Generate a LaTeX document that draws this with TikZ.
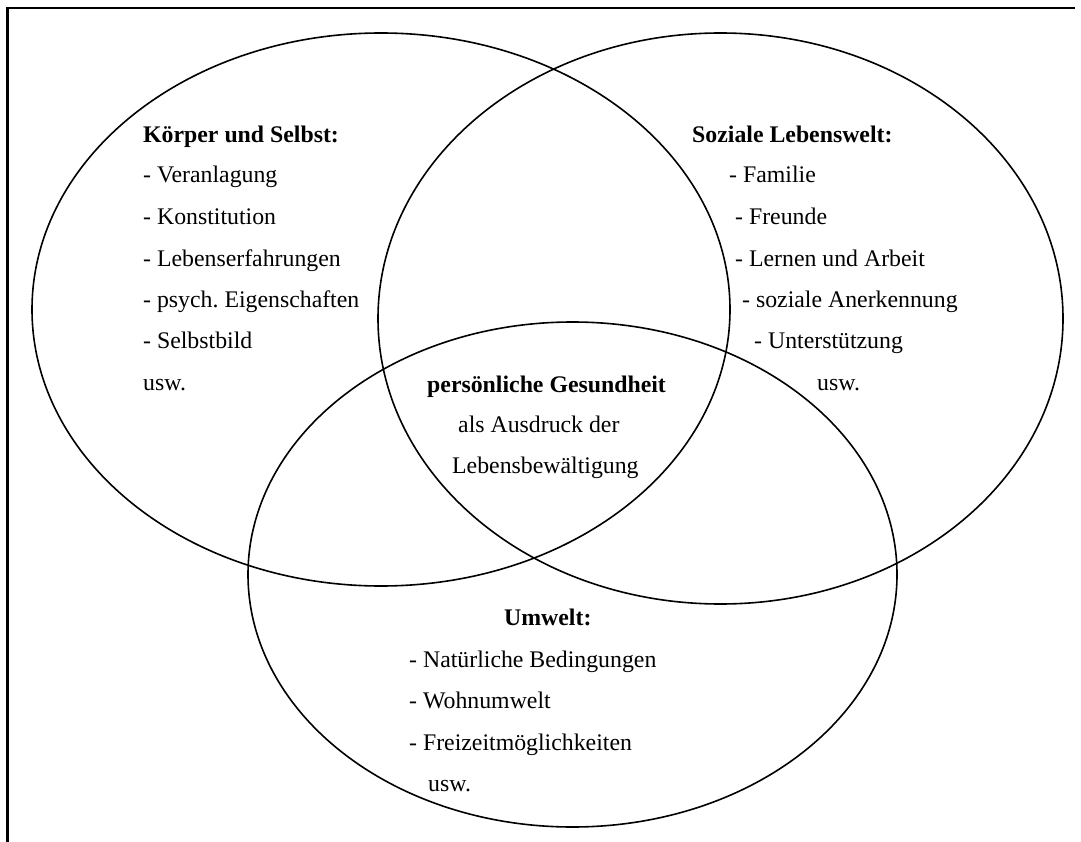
\documentclass[tikz,border=0pt]{standalone}
\usepackage{fontspec}
\setmainfont{Liberation Serif}
\frenchspacing
\begin{document}
\begin{tikzpicture}[x=1pt,y=-1pt,
  txt/.style={anchor=base west,inner sep=0pt,font=\fontsize{23.8}{28}\selectfont},
  ttl/.style={txt,font=\fontsize{23.8}{28}\selectfont\bfseries},
  ring/.style={draw=black,line width=1.6pt},
  frameline/.style={draw=black,line width=2.2pt}]
\useasboundingbox (0,0) rectangle (1081,842);
% frame (top and left only)
\coordinate (fTR) at (1075,8);
\coordinate (fTL) at (7.5,8);
\coordinate (fBL) at (7.5,842);
\draw[frameline] (fTR) -- (fTL) -- (fBL);
% ellipses
\draw[ring] (381,309.5) ellipse [x radius=349pt, y radius=276.5pt];
\draw[ring] (720.5,318.5) ellipse [x radius=342.5pt, y radius=285.5pt];
\draw[ring] (572.5,574.5) ellipse [x radius=324.5pt, y radius=252.5pt];
% Koerper und Selbst
\node[ttl] (k0) at (143,143) {Körper und Selbst:};
\node[txt] (k1) at (143,183) {- Veranlagung};
\node[txt] (k2) at (143,225) {- Konstitution};
\node[txt] (k3) at (143,267) {- Lebenserfahrungen};
\node[txt] (k4) at (143,307) {- psych. Eigenschaften};
\node[txt] (k5) at (143,348) {- Selbstbild};
\node[txt] (k6) at (143,390) {usw.};
% Soziale Lebenswelt
\node[ttl] (s0) at (692,143) {Soziale Lebenswelt:};
\node[txt] (s1) at (729,183) {- Familie};
\node[txt] (s2) at (735,225) {- Freunde};
\node[txt] (s3) at (735,267) {- Lernen und Arbeit};
\node[txt] (s4) at (742,307) {- soziale Anerkennung};
\node[txt] (s5) at (754,348) {- Unterstützung};
\node[txt] (s6) at (817,390) {usw.};
% centre
\node[ttl] (c0) at (427,392) {persönliche Gesundheit};
\node[txt] (c1) at (458,432) {als Ausdruck der};
\node[txt] (c2) at (452,473) {Lebensbewältigung};
% Umwelt
\node[ttl] (u0) at (504,625) {Umwelt:};
\node[txt] (u1) at (409,667) {- Natürliche Bedingungen};
\node[txt] (u2) at (409,708) {- Wohnumwelt};
\node[txt] (u3) at (409,750) {- Freizeitmöglichkeiten};
\node[txt] (u4) at (428,791) {usw.};
\end{tikzpicture}
\end{document}
